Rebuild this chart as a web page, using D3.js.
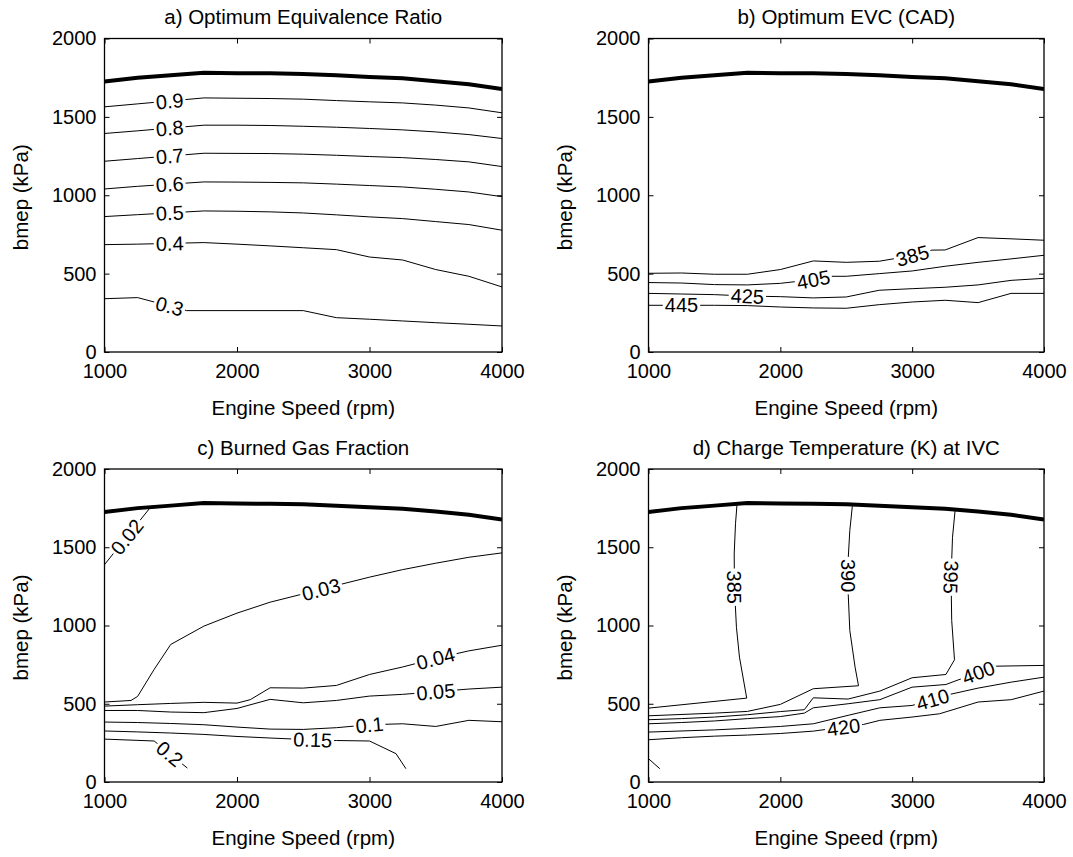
<!DOCTYPE html>
<html><head><meta charset="utf-8">
<script src="https://cdn.jsdelivr.net/npm/d3@7"></script>
<style>
body{margin:0;background:#fff}
text{font-family:"Liberation Sans",Arial,Helvetica,sans-serif;fill:#000}
</style>
</head><body>
<svg id="chart" width="1073" height="857"></svg>
<script>
// ---------- data ----------
const rpmGrid = [1000,1250,1500,1750,2000,2250,2500,2750,3000,3250,3500,3750,4000];
const boundaryBmep = [1725,1750,1766,1782,1779,1778,1774,1765,1755,1746,1728,1708,1677];
const xTicks = [1000,2000,3000,4000];
const yTicks = [0,500,1000,1500,2000];
const titles = ["a) Optimum Equivalence Ratio","b) Optimum EVC (CAD)","c) Burned Gas Fraction","d) Charge Temperature (K) at IVC"];
const xLabel = "Engine Speed (rpm)";
const yLabel = "bmep (kPa)";

// a) equivalence ratio contours
const levelsA = ["0.9","0.8","0.7","0.6","0.5","0.4","0.3"];
const linesA = [
 [[1000,1564],[1250,1583],[1750,1621],[2000,1619],[2250,1617],[2500,1613],[2750,1604],[3000,1596],[3250,1589],[3500,1575],[3750,1557],[4000,1526]],
 [[1000,1394],[1250,1411],[1750,1447],[2000,1447],[2250,1445],[2500,1440],[2750,1434],[3000,1426],[3250,1417],[3500,1404],[3750,1387],[4000,1362]],
 [[1000,1217],[1250,1234],[1750,1268],[2000,1267],[2250,1266],[2500,1262],[2750,1255],[3000,1247],[3250,1240],[3500,1228],[3750,1213],[4000,1183]],
 [[1000,1040],[1250,1057],[1750,1085],[2000,1084],[2250,1082],[2500,1079],[2750,1071],[3000,1062],[3250,1053],[3500,1038],[3750,1021],[4000,991]],
 [[1000,864],[1250,876],[1750,900],[2000,898],[2250,894],[2500,887],[2750,875],[3000,862],[3250,851],[3500,832],[3750,813],[4000,777]],
 [[1000,685],[1250,688],[1750,698],[2000,688],[2250,677],[2500,665],[2750,653],[3000,606],[3250,587],[3500,526],[3750,483],[4000,415]],
 [[1000,340],[1250,347],[1620,264],[2500,264],[2750,219],[3000,209],[3250,198],[3500,187],[3750,177],[4000,166]]
];
const labelsA = [[1492,1600],[1492,1428],[1492,1250],[1492,1072],[1492,890],[1492,693],[1492,295]];

// b) EVC contours
const levelsB = ["385","405","425","445"];
const linesB = [
 [[1000,502],[1250,504],[1500,496],[1750,496],[2000,526],[2250,581],[2500,572],[2750,579],[3000,615],[3150,650],[3250,651],[3500,730],[3750,722],[4000,713]],
 [[1000,443],[1250,440],[1500,430],[1750,428],[2000,438],[2250,462],[2384,483],[2500,483],[2750,500],[3000,517],[3250,547],[3500,572],[3750,594],[4000,617]],
 [[1000,374],[1250,370],[1500,366],[1750,357],[2000,353],[2250,345],[2500,351],[2750,394],[3000,404],[3250,413],[3500,428],[3750,457],[4000,470]],
 [[1000,298],[1250,298],[1500,298],[1750,296],[2000,287],[2250,281],[2500,279],[2750,302],[3000,319],[3250,330],[3500,315],[3750,374],[4000,374]]
];
const labelsB = [[3000,620],[2250,466],[1750,358],[1250,298]];

// c) burned gas fraction contours
const levelsC = ["0.02","0.03","0.04","0.05","0.1","0.15","0.2"];
const linesC = [
 [[1000,1389],[1340,1748]],
 [[1000,511],[1200,521],[1250,547],[1375,720],[1500,879],[1750,996],[2000,1079],[2250,1149],[2500,1202],[2750,1256],[3000,1309],[3250,1357],[3500,1398],[3750,1436],[4000,1464]],
 [[1000,485],[1250,494],[1500,502],[1750,509],[2000,504],[2100,526],[2250,602],[2500,600],[2750,617],[3000,687],[3250,735],[3500,790],[3750,838],[4000,874]],
 [[1000,457],[1250,457],[1500,447],[1750,443],[2000,470],[2250,528],[2500,506],[2750,521],[3000,549],[3250,560],[3500,577],[3750,594],[4000,606]],
 [[1000,383],[1250,380],[1500,374],[1750,366],[2000,351],[2250,338],[2500,336],[2750,347],[3000,366],[3250,372],[3500,355],[3750,394],[4000,385]],
 [[1000,326],[1250,320],[1500,313],[1750,304],[2000,291],[2250,281],[2500,272],[2750,265],[3000,262],[3200,181],[3275,85]],
 [[1000,274],[1375,262],[1625,89]]
];
const labelsC = [[1164,1570],[2634,1232],[3500,787],[3500,577],[3000,366],[2571,268],[1492,180]];

// d) charge temperature contours
const levelsD = ["385","390","395","400","410","420",""];
const linesD = [
 [[1000,472],[1745,536],[1690,798],[1667,989],[1652,1240],[1650,1457],[1660,1650],[1671,1770]],
 [[1000,423],[1500,440],[1750,451],[2000,496],[2250,596],[2593,615],[2567,734],[2527,968],[2515,1200],[2515,1430],[2527,1606],[2546,1762]],
 [[1000,398],[1250,405],[1500,415],[1750,430],[2000,450],[2182,462],[2250,538],[2514,530],[2755,581],[2999,666],[3256,687],[3321,781],[3300,1032],[3295,1300],[3306,1564],[3327,1747]],
 [[1000,372],[1250,380],[1500,390],[1750,405],[2000,418],[2182,440],[2250,474],[2514,500],[2755,526],[2999,606],[3256,623],[3628,740],[4000,745]],
 [[1000,319],[1500,333],[1750,343],[2000,355],[2250,372],[2514,426],[2755,474],[2999,489],[3287,560],[3500,600],[3751,638],[4000,670]],
 [[1000,270],[1250,283],[1500,293],[1750,300],[2000,310],[2250,325],[2632,368],[2755,394],[2999,415],[3208,436],[3500,511],[3751,526],[4000,581]],
 [[1000,149],[1086,85]]
];
const labelsD = [[1652,1245],[2515,1319],[3295,1309],[3502,700],[3157,525],[2480,348],null];

// ---------- layout ----------
const panels = [
 {title:titles[0], x:[104.5,502], y:[38.5,352], levels:levelsA, lines:linesA, labels:labelsA},
 {title:titles[1], x:[648.5,1044], y:[38.5,352], levels:levelsB, lines:linesB, labels:labelsB},
 {title:titles[2], x:[104.5,502], y:[469,782], levels:levelsC, lines:linesC, labels:labelsC},
 {title:titles[3], x:[648.5,1044], y:[469,782], levels:levelsD, lines:linesD, labels:labelsD}
];
const FS = 20;
const svg = d3.select("#chart");
svg.append("rect").attr("width",1073).attr("height",857).attr("fill","#fff");
const defs = svg.append("defs");

function nearestOnLine(px, L){
  let best=null;
  for(let i=0;i<px.length-1;i++){
    const [x1,y1]=px[i],[x2,y2]=px[i+1];
    const dx=x2-x1, dy=y2-y1, len2=dx*dx+dy*dy||1;
    let t=((L[0]-x1)*dx+(L[1]-y1)*dy)/len2; t=Math.max(0,Math.min(1,t));
    const cx=x1+t*dx, cy=y1+t*dy, d=(cx-L[0])**2+(cy-L[1])**2;
    if(!best||d<best.d){
      let a=Math.atan2(dy,dx)*180/Math.PI;
      if(a<=-80) a+=180; if(a>100) a-=180;
      best={d,cx,cy,a};
    }
  }
  return best;
}

panels.forEach((p,pi)=>{
  const x=d3.scaleLinear().domain([1000,4000]).range(p.x);
  const y=d3.scaleLinear().domain([0,2000]).range([p.y[1],p.y[0]]);
  const g=svg.append("g");
  const clipId="clip"+pi;
  defs.append("clipPath").attr("id",clipId).append("rect")
    .attr("x",p.x[0]).attr("y",p.y[0]).attr("width",p.x[1]-p.x[0]).attr("height",p.y[1]-p.y[0]);
  const line=d3.line().x(d=>x(d[0])).y(d=>y(d[1]));
  const plot=g.append("g").attr("clip-path",`url(#${clipId})`);

  // contour lines with label gaps
  p.lines.forEach((pts,li)=>{
    const lab=p.labels[li];
    const path=plot.append("path").attr("d",line(pts)).attr("fill","none")
      .attr("stroke","#000").attr("stroke-width",1).attr("stroke-linejoin","round");
    if(lab && p.levels[li]){
      const px=pts.map(d=>[x(d[0]),y(d[1])]);
      const pos=nearestOnLine(px,[x(lab[0]),y(lab[1])]);
      const tr=`translate(${pos.cx},${pos.cy}) rotate(${pos.a})`;
      const t=g.append("text").attr("transform",tr).attr("text-anchor","middle")
        .attr("dy","0.36em").style("font-size",FS+"px").text(p.levels[li]);
      const w=t.node().getComputedTextLength();
      const mid=`m${pi}_${li}`;
      const m=defs.append("mask").attr("id",mid).attr("maskUnits","userSpaceOnUse")
        .attr("x",0).attr("y",0).attr("width",1073).attr("height",857);
      m.append("rect").attr("x",0).attr("y",0).attr("width",1073).attr("height",857).attr("fill","#fff");
      m.append("rect").attr("transform",tr).attr("x",-w/2-2).attr("y",-8).attr("width",w+4).attr("height",16).attr("fill","#000");
      path.attr("mask",`url(#${mid})`);
    }
  });

  // boundary (maximum bmep)
  plot.append("path").datum(rpmGrid.map((r,i)=>[r,boundaryBmep[i]]))
    .attr("d",line).attr("fill","none").attr("stroke","#000").attr("stroke-width",4).attr("stroke-linejoin","round");

  // axes
  const ax=g.append("g").attr("transform",`translate(0,${p.y[1]})`)
    .call(d3.axisBottom(x).tickValues(xTicks).tickSizeInner(-5).tickSizeOuter(0).tickPadding(12).tickFormat(d3.format("d")));
  const ay=g.append("g").attr("transform",`translate(${p.x[0]},0)`)
    .call(d3.axisLeft(y).tickValues(yTicks).tickSizeInner(-5).tickSizeOuter(0).tickPadding(8).tickFormat(d3.format("d")));
  const at=g.append("g").attr("transform",`translate(0,${p.y[0]})`)
    .call(d3.axisTop(x).tickValues(xTicks).tickSizeInner(-5).tickSizeOuter(0).tickFormat(""));
  const ar=g.append("g").attr("transform",`translate(${p.x[1]},0)`)
    .call(d3.axisRight(y).tickValues(yTicks).tickSizeInner(-5).tickSizeOuter(0).tickFormat(""));
  [ax,ay,at,ar].forEach(a=>{
    a.select(".domain").remove();
    a.selectAll("line").attr("stroke","#000").attr("stroke-width",1);
    a.selectAll("text").style("font-size",FS+"px").attr("fill","#000").style("font-family",null);
  });
  g.append("rect").attr("x",p.x[0]).attr("y",p.y[0]).attr("width",p.x[1]-p.x[0]).attr("height",p.y[1]-p.y[0])
    .attr("fill","none").attr("stroke","#000").attr("stroke-width",1.3);

  const cx=(p.x[0]+p.x[1])/2, cy=(p.y[0]+p.y[1])/2;
  g.append("text").attr("x",cx).attr("y",p.y[0]-14.5).attr("text-anchor","middle").style("font-size","20.5px").text(p.title);
  g.append("text").attr("x",cx).attr("y",p.y[1]+63).attr("text-anchor","middle").style("font-size","20.5px").text(xLabel);
  g.append("text").attr("transform",`translate(${p.x[0]-77},${cy+2}) rotate(-90)`).attr("text-anchor","middle").style("font-size","20.5px").text(yLabel);
});
</script>
</body></html>
